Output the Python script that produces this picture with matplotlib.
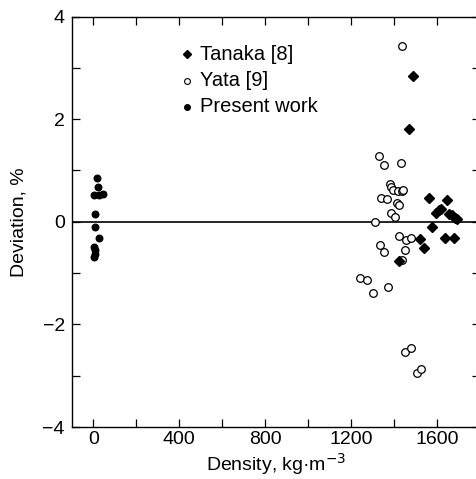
import matplotlib
matplotlib.use("Agg")
import matplotlib.pyplot as plt
from matplotlib.ticker import MultipleLocator

plt.rcParams['font.family'] = ['Liberation Sans', 'DejaVu Sans']

# Tanaka [8]
tanaka_x = [1488, 1470, 1565, 1646, 1596, 1609, 1618, 1658, 1671, 1683, 1692,
            1578, 1522, 1540, 1637, 1680, 1422]
tanaka_y = [2.84, 1.80, 0.47, 0.42, 0.18, 0.23, 0.25, 0.16, 0.14, 0.08, 0.05,
            -0.10, -0.33, -0.51, -0.32, -0.31, -0.77]

# Yata [9]
yata_x = [1439, 1329, 1354, 1435, 1382, 1385, 1397, 1421, 1436, 1444, 1339, 1366,
          1416, 1425, 1388, 1407, 1311, 1425, 1456, 1478, 1335, 1354, 1452, 1438,
          1242, 1273, 1304, 1373, 1453, 1478, 1506, 1528]
yata_y = [3.42, 1.28, 1.10, 1.15, 0.74, 0.68, 0.61, 0.59, 0.59, 0.62, 0.46, 0.44,
          0.37, 0.32, 0.18, 0.10, 0.00, -0.28, -0.35, -0.32, -0.46, -0.59, -0.55, -0.74,
          -1.10, -1.13, -1.38, -1.28, -2.53, -2.46, -2.95, -2.86]

# Present work
present_x = [16, 22, 3, 28, 44, 6, 9, 25, 3, 6, 9, 3]
present_y = [0.85, 0.67, 0.52, 0.53, 0.54, 0.16, -0.10, -0.31, -0.49, -0.55, -0.62, -0.68]

series_labels = ['Tanaka [8]', 'Yata [9]', 'Present work']
xticks = [0, 400, 800, 1200, 1600]
yticks = [-4, -2, 0, 2, 4]

W, H = 477, 479
fig = plt.figure(figsize=(W / 100, H / 100), dpi=100)
ax = fig.add_axes([71.8 / W, 1 - 427 / H, (479.8 - 71.8) / W, (427 - 16.5) / H])

ax.axhline(0, color='black', lw=1.2, zorder=1)
ax.plot(tanaka_x, tanaka_y, linestyle='none', marker='D', markersize=5.0,
        color='black', zorder=3)
ax.plot(yata_x, yata_y, linestyle='none', marker='o', markersize=5.5,
        markerfacecolor='white', markeredgecolor='black', markeredgewidth=0.9,
        zorder=2)
ax.plot(present_x, present_y, linestyle='none', marker='o', markersize=4.7,
        color='black', zorder=3)

ax.set_xlim(-100, 1800)
ax.set_ylim(-4, 4)
ax.set_xticks(xticks)
ax.set_yticks(yticks)
ax.set_yticklabels(['\u22124', '\u22122', '0', '2', '4'])
ax.xaxis.set_minor_locator(MultipleLocator(200))
ax.yaxis.set_minor_locator(MultipleLocator(1))
ax.tick_params(which='both', direction='in', top=True, right=True, length=6,
               width=0.9, labelsize=14)
ax.tick_params(axis='y', pad=5)
ax.tick_params(axis='x', pad=3)
for s in ax.spines.values():
    s.set_linewidth(1.0)

ax.set_xlabel('Density, kg\u00b7m$^{-3}$', fontsize=14, labelpad=2)
ax.set_ylabel('Deviation, %', fontsize=14, labelpad=11)

# legend drawn manually (figure-pixel layout)
rows_y = [54, 81, 107]
marker_styles = [
    dict(marker='D', markersize=3.6, color='black'),
    dict(marker='o', markersize=4.2, markerfacecolor='white', markeredgecolor='black',
         markeredgewidth=0.8),
    dict(marker='o', markersize=4.0, color='black'),
]
for lab, ry, ms in zip(series_labels, rows_y, marker_styles):
    fy = 1 - ry / H
    fig.lines.append(plt.Line2D([187 / W], [fy], linestyle='none',
                                transform=fig.transFigure, figure=fig, **ms))
    fig.text(200 / W, fy, lab, fontsize=14.5, va='center', ha='left')

fig.savefig('out.png', dpi=100)
